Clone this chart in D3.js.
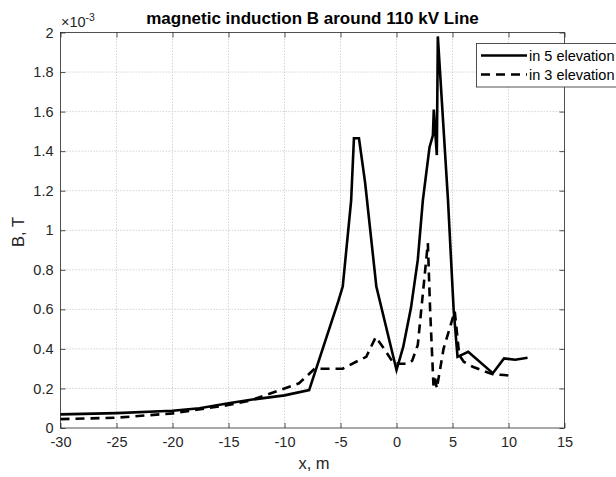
<!DOCTYPE html>
<html><head><meta charset="utf-8">
<script src="https://cdn.jsdelivr.net/npm/d3@7"></script>
<style>body{margin:0;background:#fff}svg{display:block;font-family:"Liberation Sans",Arial,sans-serif}</style>
</head><body><svg id="c" width="616" height="477"></svg>
<script>
const xTicks = [-30,-25,-20,-15,-10,-5,0,5,10,15];
const yTicks = [0,0.2,0.4,0.6,0.8,1,1.2,1.4,1.6,1.8,2];
const yTickLabels = ["0","0.2","0.4","0.6","0.8","1","1.2","1.4","1.6","1.8","2"];
// in 5 elevation (B in units of 1e-3 T)
const x5 = [-30,-25,-20,-17.6,-15,-13,-10,-7.8,-5.2,-4.8,-4.05,-3.8,-3.35,-2.8,-1.8,0,0.6,1.3,1.9,2.35,2.95,3.25,3.33,3.6,3.69,4.6,5.1,5.45,6.4,8.6,9.6,10.6,11.7];
const b5 = [0.069,0.075,0.087,0.1,0.125,0.143,0.165,0.192,0.64,0.715,1.15,1.465,1.465,1.24,0.715,0.293,0.41,0.61,0.85,1.15,1.42,1.48,1.61,1.38,1.98,1.15,0.6,0.36,0.385,0.277,0.352,0.345,0.355];
// in 3 elevation
const x3 = [-30,-25,-20,-15,-13,-10.5,-8.7,-7.3,-4.8,-3.6,-2.7,-1.85,-1.1,-0.3,0.3,1.0,1.4,1.9,2.8,3.0,3.3,3.45,3.6,3.9,4.2,5.2,5.6,6.0,6.8,7.7,8.6,9.6,10.5];
const b3 = [0.045,0.052,0.074,0.116,0.14,0.19,0.226,0.3,0.3,0.335,0.36,0.46,0.4,0.33,0.325,0.325,0.34,0.42,0.935,0.6,0.215,0.25,0.2,0.3,0.4,0.59,0.37,0.335,0.31,0.29,0.272,0.268,0.262];
const seriesNames = ["in 5 elevation","in 3 elevation"];

const svg = d3.select("#c");
const L=60.5, R=564.5, T=32.5, B=428;
const x = d3.scaleLinear().domain([-30,15]).range([L,R]);
const y = d3.scaleLinear().domain([0,2]).range([B,T]);

svg.append("rect").attr("width",616).attr("height",477).attr("fill","#fff");

// grid
const g = svg.append("g");
g.selectAll(".gx").data(xTicks.slice(1,-1)).enter().append("line")
 .attr("x1",d=>x(d)).attr("x2",d=>x(d)).attr("y1",T).attr("y2",B)
 .attr("stroke","#c8c8c8").attr("stroke-width",0.8).attr("stroke-dasharray","1.5,1.5");
g.selectAll(".gy").data(yTicks.slice(1,-1)).enter().append("line")
 .attr("y1",d=>y(d)).attr("y2",d=>y(d)).attr("x1",L).attr("x2",R)
 .attr("stroke","#c8c8c8").attr("stroke-width",0.8).attr("stroke-dasharray","1.5,1.5");

// axes
const xa = svg.append("g").attr("transform",`translate(0,${B})`)
 .call(d3.axisBottom(x).tickValues(xTicks).tickSizeInner(-5).tickSizeOuter(0).tickPadding(9).tickFormat(d=>d));
const xa2 = svg.append("g").attr("transform",`translate(0,${T})`)
 .call(d3.axisTop(x).tickValues(xTicks).tickSizeInner(-5).tickSizeOuter(0).tickFormat(""));
const ya = svg.append("g").attr("transform",`translate(${L},0)`)
 .call(d3.axisLeft(y).tickValues(yTicks).tickSizeInner(-5).tickSizeOuter(0).tickPadding(7).tickFormat((d,i)=>yTickLabels[i]));
const ya2 = svg.append("g").attr("transform",`translate(${R},0)`)
 .call(d3.axisRight(y).tickValues(yTicks).tickSizeInner(-5).tickSizeOuter(0).tickFormat(""));
[xa,xa2,ya,ya2].forEach(a=>{
  a.select(".domain").remove();
  a.selectAll("line").attr("stroke","#262626").attr("stroke-width",0.8);
  a.selectAll("text").attr("font-size",14.5).attr("fill","#262626").attr("font-family","Liberation Sans, Arial, sans-serif");
});
svg.append("rect").attr("x",L).attr("y",T).attr("width",R-L).attr("height",B-T)
 .attr("fill","none").attr("stroke","#262626").attr("stroke-width",0.8);

// lines
const line = d3.line().x(d=>x(d[0])).y(d=>y(d[1]));
svg.append("path").datum(x5.map((v,i)=>[v,b5[i]])).attr("d",line)
 .attr("fill","none").attr("stroke","#000").attr("stroke-width",2.6).attr("stroke-linejoin","miter");
svg.append("path").datum(x3.map((v,i)=>[v,b3[i]])).attr("d",line)
 .attr("fill","none").attr("stroke","#000").attr("stroke-width",2.6).attr("stroke-dasharray","9,6");

// title and labels
svg.append("text").attr("x",312.5).attr("y",24).attr("text-anchor","middle")
 .attr("font-size",17).attr("font-weight","bold").attr("fill","#000").text("magnetic induction B around 110 kV Line");
svg.append("text").attr("x",314).attr("y",469).attr("text-anchor","middle")
 .attr("font-size",16.5).attr("fill","#262626").text("x, m");
svg.append("text").attr("transform","translate(24,232) rotate(-90)").attr("text-anchor","middle")
 .attr("font-size",16.5).attr("fill","#262626").text("B, T");
const ex = svg.append("text").attr("x",61).attr("y",27).attr("font-size",14.5).attr("fill","#262626");
ex.append("tspan").text("×10");
ex.append("tspan").attr("dy",-6).attr("font-size",10.5).text("-3");

// legend
const lg = svg.append("g");
lg.append("rect").attr("x",476.5).attr("y",43.5).attr("width",150).attr("height",43.5)
 .attr("fill","#fff").attr("stroke","#262626").attr("stroke-width",0.8);
seriesNames.forEach((n,i)=>{
  const yy = 55.5 + i*19;
  lg.append("line").attr("x1",481).attr("x2",527).attr("y1",yy).attr("y2",yy)
    .attr("stroke","#000").attr("stroke-width",2.6).attr("stroke-dasharray",i? "9,6":null);
  lg.append("text").attr("x",529).attr("y",yy+5).attr("font-size",14.5).attr("fill","#000").text(n);
});
</script></body></html>
